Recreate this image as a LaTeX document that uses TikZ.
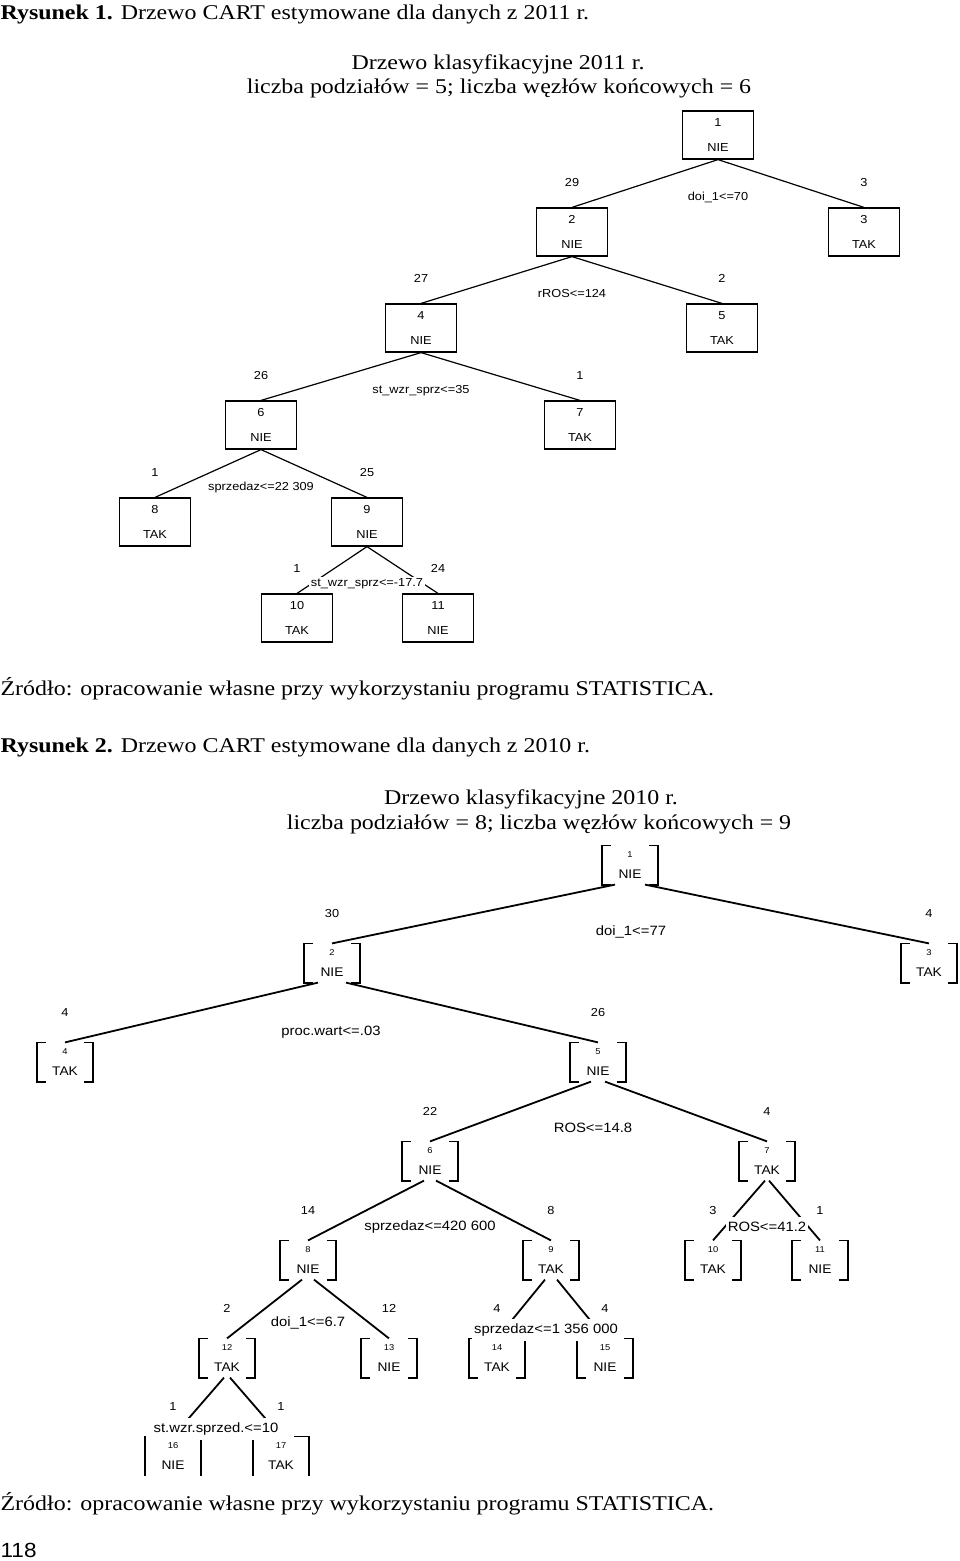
\documentclass[tikz,border=0pt]{standalone}
\usepackage{fontspec}
\setmainfont[FakeStretch=1.14]{Liberation Serif}
\newfontfamily\arialfont[FakeStretch=1.1]{Liberation Sans}
\newcommand{\nr}[1]{{\fontsize{8.5}{10}\selectfont #1}}

\begin{document}
\begin{tikzpicture}[x=1pt, y=-1pt, line width=1.2pt,
    box/.style = {draw, minimum width=71pt, minimum height=48pt, inner sep=0pt, align=center, font=\arialfont\fontsize{11.6}{25}\selectfont},
    brk/.style = {minimum width=55pt, minimum height=38pt, inner sep=0pt, align=center, font=\arialfont\fontsize{12.5}{21}\selectfont},
    cnt/.style = {inner sep=0pt, yshift=20pt, font=\arialfont\fontsize{11.6}{14}\selectfont},
    cnt2/.style = {cnt, yshift=5pt},
    split/.style = {fill=white, inner sep=2pt, font=\arialfont\fontsize{11.6}{14}\selectfont},
    split2/.style = {split, inner ysep=5pt, font=\arialfont\fontsize{13.5}{16}\selectfont},
    captxt/.style = {inner sep=0pt, font=\fontsize{21}{25}\selectfont},
    thk/.style = {line width=1.8pt}]
    \useasboundingbox (0,0) rectangle (960,1561);

    % captions
    \node[captxt, anchor=base west] (tit1) at (0,19) {\textbf{Rysunek 1.} Drzewo CART estymowane dla danych z 2011 r.};
    \node[captxt, anchor=base] (hd1a) at (498,69) {Drzewo klasyfikacyjne 2011 r.};
    \node[captxt, anchor=base] (hd1b) at (499,93) {liczba podziałów = 5; liczba węzłów końcowych = 6};
    \node[captxt, anchor=base west] (src1) at (0,695) {Źródło: opracowanie własne przy wykorzystaniu programu STATISTICA.};
    \node[captxt, anchor=base west] (tit2) at (0,752) {\textbf{Rysunek 2.} Drzewo CART estymowane dla danych z 2010 r.};
    \node[captxt, anchor=base] (hd2a) at (531,804) {Drzewo klasyfikacyjne 2010 r.};
    \node[captxt, anchor=base] (hd2b) at (539,829) {liczba podziałów = 8; liczba węzłów końcowych = 9};
    \node[captxt, anchor=base west] (src2) at (0,1510) {Źródło: opracowanie własne przy wykorzystaniu programu STATISTICA.};
    \node[inner sep=0pt, anchor=base west, font=\arialfont\fontsize{20.5}{24}\selectfont] (pg) at (0,1557) {118};

    % drzewo 2011
    \node[box] (n1) at (718,135) {1\\NIE};
    \node[box, label={[cnt]above:29}] (n2) at (572,232) {2\\NIE};
    \node[box, label={[cnt]above:3}] (n3) at (864,232) {3\\TAK};
    \node[box, label={[cnt]above:27}] (n4) at (421,328) {4\\NIE};
    \node[box, label={[cnt]above:2}] (n5) at (722,328) {5\\TAK};
    \node[box, label={[cnt]above:26}] (n6) at (261,425) {6\\NIE};
    \node[box, label={[cnt]above:1}] (n7) at (580,425) {7\\TAK};
    \node[box, label={[cnt]above:1}] (n8) at (155,522) {8\\TAK};
    \node[box, label={[cnt]above:25}] (n9) at (367,522) {9\\NIE};
    \node[box, label={[cnt]above:1}] (n10) at (297,618) {10\\TAK};
    \node[box, label={[cnt]above:24}] (n11) at (438,618) {11\\NIE};
    \draw (n1.south) -- (n2.north);
    \draw (n1.south) -- (n3.north);
    \draw (n2.south) -- (n4.north);
    \draw (n2.south) -- (n5.north);
    \draw (n4.south) -- (n6.north);
    \draw (n4.south) -- (n7.north);
    \draw (n6.south) -- (n8.north);
    \draw (n6.south) -- (n9.north);
    \draw (n9.south) -- (n10.north);
    \draw (n9.south) -- (n11.north);
    \node[split] (s1) at (718,197) {doi\_1<=70};
    \node[split] (s2) at (572,294) {rROS<=124};
    \node[split] (s4) at (421,391) {st\_wzr\_sprz<=35};
    \node[split] (s6) at (261,487) {sprzedaz<=22 309};
    \node[split] (s9) at (367,584) {st\_wzr\_sprz<=-17.7};

    % drzewo 2010
    \node[brk] (m1) at (630,865) {\nr{1}\\NIE};
    \node[brk, label={[cnt2]above:30}] (m2) at (332,963) {\nr{2}\\NIE};
    \node[brk, label={[cnt2]above:4}] (m3) at (929,963) {\nr{3}\\TAK};
    \node[brk, label={[cnt2]above:4}] (m4) at (65,1062) {\nr{4}\\TAK};
    \node[brk, label={[cnt2]above:26}] (m5) at (598,1062) {\nr{5}\\NIE};
    \node[brk, label={[cnt2]above:22}] (m6) at (430,1161) {\nr{6}\\NIE};
    \node[brk, label={[cnt2]above:4}] (m7) at (767,1161) {\nr{7}\\TAK};
    \node[brk, label={[cnt2]above:14}] (m8) at (308,1260) {\nr{8}\\NIE};
    \node[brk, label={[cnt2]above:8}] (m9) at (551,1260) {\nr{9}\\TAK};
    \node[brk, label={[cnt2]above:3}] (m10) at (713,1260) {\nr{10}\\TAK};
    \node[brk, label={[cnt2]above:1}] (m11) at (820,1260) {\nr{11}\\NIE};
    \node[brk, label={[cnt2]above:2}] (m12) at (227,1358) {\nr{12}\\TAK};
    \node[brk, label={[cnt2]above:12}] (m13) at (389,1358) {\nr{13}\\NIE};
    \node[brk, label={[cnt2]above:4}] (m14) at (497,1358) {\nr{14}\\TAK};
    \node[brk, label={[cnt2]above:4}] (m15) at (605,1358) {\nr{15}\\NIE};
    \node[brk, label={[cnt2]above:1}] (m16) at (173,1456) {\nr{16}\\NIE};
    \node[brk, label={[cnt2]above:1}] (m17) at (281,1456) {\nr{17}\\TAK};
    \foreach \i in {1,...,15}
        \draw[thk] (m\i.north west) ++(9,0) -| (m\i.south west) -- ++(9,0)
            (m\i.north east) ++(-9,0) -| (m\i.south east) -- ++(-9,0);
    \draw[thk] (m16.north west) -- (m16.south west) (m16.north east) -- (m16.south east);
    \draw[thk] (m17.north west) -- (m17.south west) (m17.north east) ++(-15,0) -| (m17.south east);
    \draw[thk] ([xshift=-15pt]m1.south) -- (m2.north);
    \draw[thk] ([xshift=15pt]m1.south) -- (m3.north);
    \draw[thk] ([xshift=-14pt]m2.south) -- (m4.north);
    \draw[thk] ([xshift=14pt]m2.south) -- (m5.north);
    \draw[thk] ([xshift=-7pt]m5.south) -- (m6.north);
    \draw[thk] ([xshift=7pt]m5.south) -- (m7.north);
    \draw[thk] ([xshift=-6pt]m6.south) -- (m8.north);
    \draw[thk] ([xshift=6pt]m6.south) -- (m9.north);
    \draw[thk] ([xshift=-2pt]m7.south) -- (m10.north);
    \draw[thk] ([xshift=2pt]m7.south) -- (m11.north);
    \draw[thk] ([xshift=-6pt]m8.south) -- (m12.north);
    \draw[thk] ([xshift=6pt]m8.south) -- (m13.north);
    \draw[thk] ([xshift=-6pt]m9.south) -- (m14.north);
    \draw[thk] ([xshift=6pt]m9.south) -- (m15.north);
    \draw[thk] ([xshift=-3pt]m12.south) -- (m16.north);
    \draw[thk] ([xshift=3pt]m12.south) -- (m17.north);
    \node[split2] (t1) at (631,932) {doi\_1<=77};
    \node[split2] (t2) at (331,1032) {proc.wart<=.03};
    \node[split2] (t5) at (593,1128) {ROS<=14.8};
    \node[split2] (t6) at (430,1227) {sprzedaz<=420 600};
    \node[split2] (t7) at (767,1227) {ROS<=41.2};
    \node[split2] (t8) at (308,1323) {doi\_1<=6.7};
    \node[split2] (t9) at (546,1330) {sprzedaz<=1 356 000};
    \node[split2, inner xsep=5pt] (t12) at (216,1429) {st.wzr.sprzed.<=10};
\end{tikzpicture}
\end{document}
